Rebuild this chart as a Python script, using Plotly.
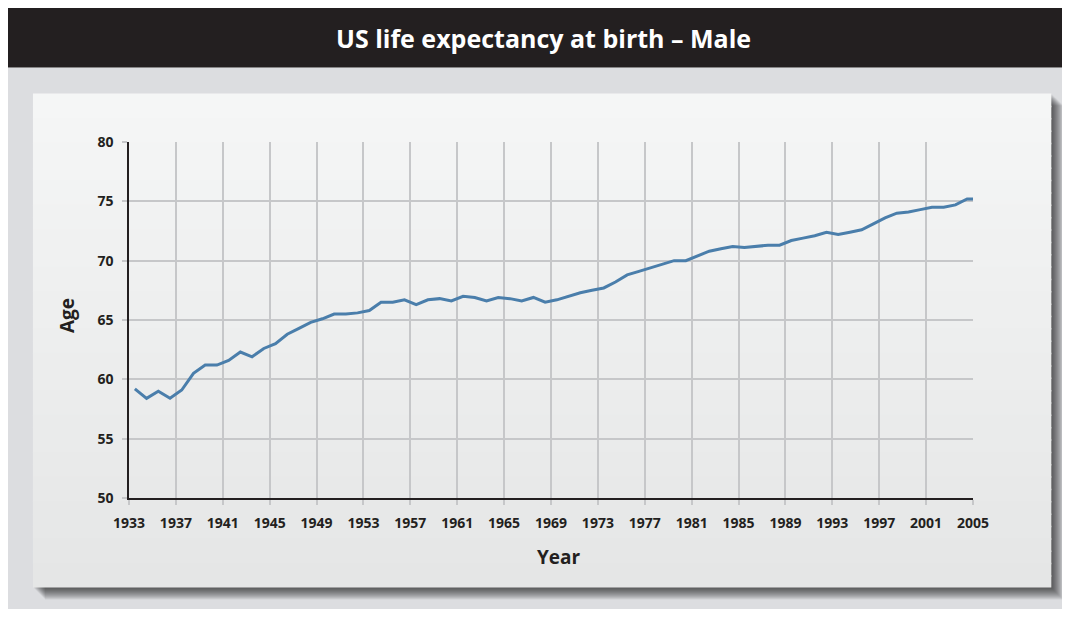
import plotly.graph_objects as go

# ---- data ----
years = list(range(1933, 2006))
male_life_expectancy = [
    59.2, 58.4, 59.0, 58.4, 59.1, 60.5, 61.2, 61.2, 61.6, 62.3,
    61.9, 62.6, 63.0, 63.8, 64.3, 64.8, 65.1, 65.5, 65.5, 65.6,
    65.8, 66.5, 66.5, 66.7, 66.3, 66.7, 66.8, 66.6, 67.0, 66.9,
    66.6, 66.9, 66.8, 66.6, 66.9, 66.5, 66.7, 67.0, 67.3, 67.5,
    67.7, 68.2, 68.8, 69.1, 69.4, 69.7, 70.0, 70.0, 70.4, 70.8,
    71.0, 71.2, 71.1, 71.2, 71.3, 71.3, 71.7, 71.9, 72.1, 72.4,
    72.2, 72.4, 72.6, 73.1, 73.6, 74.0, 74.1, 74.3, 74.5, 74.5,
    74.7, 75.2, 75.2,
]
x_tick_labels = [str(y) for y in range(1933, 2006, 4)]
y_tick_values = [50, 55, 60, 65, 70, 75, 80]
title_text = "US life expectancy at birth \u2013 Male"
x_title = "Year"
y_title = "Age"

# values are plotted at mid-year, last one at the axis end
x_pos = [min(y + 0.5, 2005) for y in years]

# ---- geometry (screen pixels; page body has an 8px margin) ----
OFF = 8
W, H = 1054, 601
L, R, T, B = 129, 972.7, 141.7, 498.3


def px(x):
    return (x - L) / (R - L)


def py(y):
    return (B - y) / (B - T)


def rect(x0, y0, x1, y1, color, opacity=1.0):
    return dict(type="rect", xref="paper", yref="paper",
                x0=px(x0), x1=px(x1), y0=py(y1), y1=py(y0),
                fillcolor=color, opacity=opacity, line=dict(width=0),
                layer="below")


shapes = []
shapes.append(rect(0, 67, 1080, 640, "#dcdde0"))
shapes.append(rect(0, 0, 1080, 67, "#231f20"))
# drop shadow
for d in range(1, 13):
    shapes.append(rect(33 + d, 93 + d, 1051 + d, 588 + d, "#000000", 0.065))
# panel with vertical gradient
n = 40
top_c = (245, 246, 246)
bot_c = (229, 230, 230)
py0, py1 = 93, 588
for i in range(n):
    t = i / (n - 1)
    c = tuple(round(top_c[k] + (bot_c[k] - top_c[k]) * t) for k in range(3))
    y0 = py0 + (py1 - py0) * i / n
    y1 = py0 + (py1 - py0) * (i + 1) / n + 1.5
    shapes.append(rect(33, y0, 1051, min(y1, py1), "rgb(%d,%d,%d)" % c))

fig = go.Figure()
fig.add_trace(go.Scatter(
    x=x_pos, y=male_life_expectancy, mode="lines",
    line=dict(color="#4a7eab", width=3), hoverinfo="skip", showlegend=False,
))

font_fam = "Open Sans, Noto Sans, DejaVu Sans, sans-serif"

fig.update_layout(
    width=W, height=H,
    margin=dict(l=L - OFF, r=(OFF + W) - R, t=T - OFF, b=(OFF + H) - B, pad=0),
    paper_bgcolor="white",
    plot_bgcolor="rgba(0,0,0,0)",
    shapes=shapes,
    showlegend=False,
    font=dict(family=font_fam, color="#231f20"),
    xaxis=dict(
        range=[1933, 2005],
        tickmode="array",
        tickvals=[int(v) for v in x_tick_labels],
        ticktext=x_tick_labels,
        showgrid=True, gridcolor="#c6c7c9", gridwidth=1.5,
        showline=True, linecolor="#231f20", linewidth=1.5,
        ticks="outside", ticklen=5, tickcolor="#c6c7c9", tickwidth=1.5,
        tickfont=dict(size=14, family=font_fam, color="#231f20", weight="bold"),
        ticklabelstandoff=6,
        zeroline=False, fixedrange=True,
    ),
    yaxis=dict(
        range=[50, 80],
        tickmode="array",
        tickvals=y_tick_values,
        ticktext=[str(v) for v in y_tick_values],
        showgrid=True, gridcolor="#c6c7c9", gridwidth=1.5,
        showline=True, linecolor="#231f20", linewidth=1.5,
        ticks="outside", ticklen=5, tickcolor="#c6c7c9", tickwidth=1.5,
        tickfont=dict(size=14, family=font_fam, color="#231f20", weight="bold"),
        ticklabelstandoff=6,
        zeroline=False, fixedrange=True,
    ),
    annotations=[
        dict(text="<b>%s</b>" % title_text, xref="paper", yref="paper",
             x=px(543), y=py(38), xanchor="center", yanchor="middle",
             showarrow=False, font=dict(size=25, color="white", family=font_fam)),
        dict(text="<b>%s</b>" % x_title, xref="paper", yref="paper",
             x=px(559), y=py(557), xanchor="center", yanchor="middle",
             showarrow=False, font=dict(size=19, color="#231f20", family=font_fam)),
        dict(text="<b>%s</b>" % y_title, xref="paper", yref="paper",
             x=px(67), y=py(315), xanchor="center", yanchor="middle",
             textangle=-90, showarrow=False,
             font=dict(size=19, color="#231f20", family=font_fam)),
    ],
)

fig.write_html("out.html")
